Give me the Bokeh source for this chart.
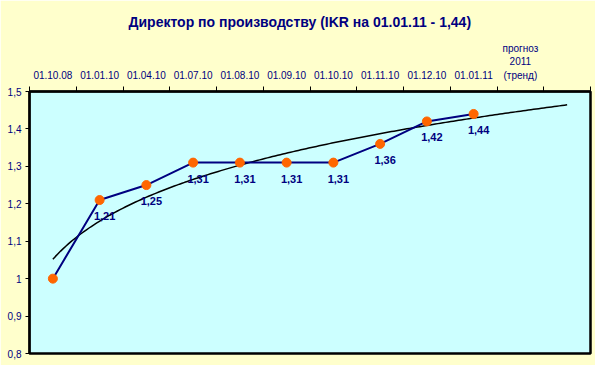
import numpy as np
from bokeh.plotting import figure
from bokeh.models import FixedTicker, CustomJSTickFormatter, ColumnDataSource, Title
from bokeh.core.properties import value
from bokeh.embed import file_html
from bokeh.resources import INLINE

title_text = "Директор по производству (IKR на 01.01.11 - 1,44)"
categories = ["01.10.08", "01.01.10", "01.04.10", "01.07.10", "01.08.10",
              "01.09.10", "01.10.10", "01.11.10", "01.12.10", "01.01.11",
              "прогноз\n2011\n(тренд)", ""]
values = [1.00, 1.21, 1.25, 1.31, 1.31, 1.31, 1.31, 1.36, 1.42, 1.44]
y_ticks = [0.8, 0.9, 1.0, 1.1, 1.2, 1.3, 1.4, 1.5]

NAVY = "#000080"
FONT = "Liberation Sans"

xs = list(range(1, len(values) + 1))
ncat = len(categories)

p = figure(width=595, height=365, output_backend="svg", toolbar_location=None,
           x_range=(0.5, ncat + 0.5), y_range=(0.8, 1.5),
           x_axis_location="above",
           min_border_left=29, min_border_right=5, min_border_bottom=12, min_border_top=8)
p.background_fill_color = "#CCFFFF"
p.border_fill_color = "#FFFFCC"
p.outline_line_color = "black"
p.outline_line_width = 2.5
p.xgrid.visible = False
p.ygrid.visible = False

# title
t = Title(text=title_text, align="left", offset=99, text_color=NAVY, text_font=FONT,
          text_font_size="14px", text_font_style="bold", standoff=22)
p.add_layout(t, "above")

# top category axis
xa = p.xaxis[0]
xa.ticker = FixedTicker(ticks=[i + 1 for i in range(ncat)],
                        minor_ticks=[i + 0.5 for i in range(ncat + 1)])
xa.major_label_overrides = {i + 1: c for i, c in enumerate(categories)}
xa.major_tick_out = 0
xa.major_tick_in = 0
xa.minor_tick_out = 5
xa.minor_tick_in = 0
xa.minor_tick_line_color = "black"
xa.axis_line_color = "black"
xa.axis_line_width = 2
xa.major_label_text_color = NAVY
xa.major_label_text_font = FONT
xa.major_label_text_font_size = "10px"
xa.major_label_standoff = 6

# left value axis
ya = p.yaxis[0]
ya.ticker = FixedTicker(ticks=y_ticks)
ya.formatter = CustomJSTickFormatter(code="""
var s = (Math.round(tick*10)/10).toString();
return s.replace('.', ',');
""")
ya.major_tick_out = 4
ya.major_tick_in = 0
ya.minor_tick_out = 0
ya.minor_tick_in = 0
ya.axis_line_color = "black"
ya.axis_line_width = 2
ya.major_label_text_color = NAVY
ya.major_label_text_font = FONT
ya.major_label_text_font_size = "10px"
ya.major_label_standoff = 4

# power trendline (Excel-style), fitted to the data, forecast two periods ahead
bfit, afit = np.polyfit(np.log(xs), np.log(values), 1)
tx = np.linspace(1, len(values) + 2, 200)
ty = np.exp(afit) * tx ** bfit
p.line(tx, ty, line_color="black", line_width=1.5)

src = ColumnDataSource(dict(x=xs, y=values))
p.line("x", "y", source=src, line_color=NAVY, line_width=2)
p.scatter("x", "y", source=src, size=9, fill_color="#FF6600", line_color="#FF6600")

lsrc = ColumnDataSource(dict(x=xs[1:], y=values[1:],
                             lbl=[("%.2f" % v).replace(".", ",") for v in values[1:]]))
p.text("x", "y", text="lbl", source=lsrc, text_align="center", text_baseline="middle",
       x_offset=5, y_offset=16, text_color=NAVY, text_font=value(FONT),
       text_font_size="11px", text_font_style="bold")

html = file_html(p, INLINE)
html = html.replace("<body>", '<body style="background:#FFFFCC">', 1)
open("out.html", "w").write(html)
